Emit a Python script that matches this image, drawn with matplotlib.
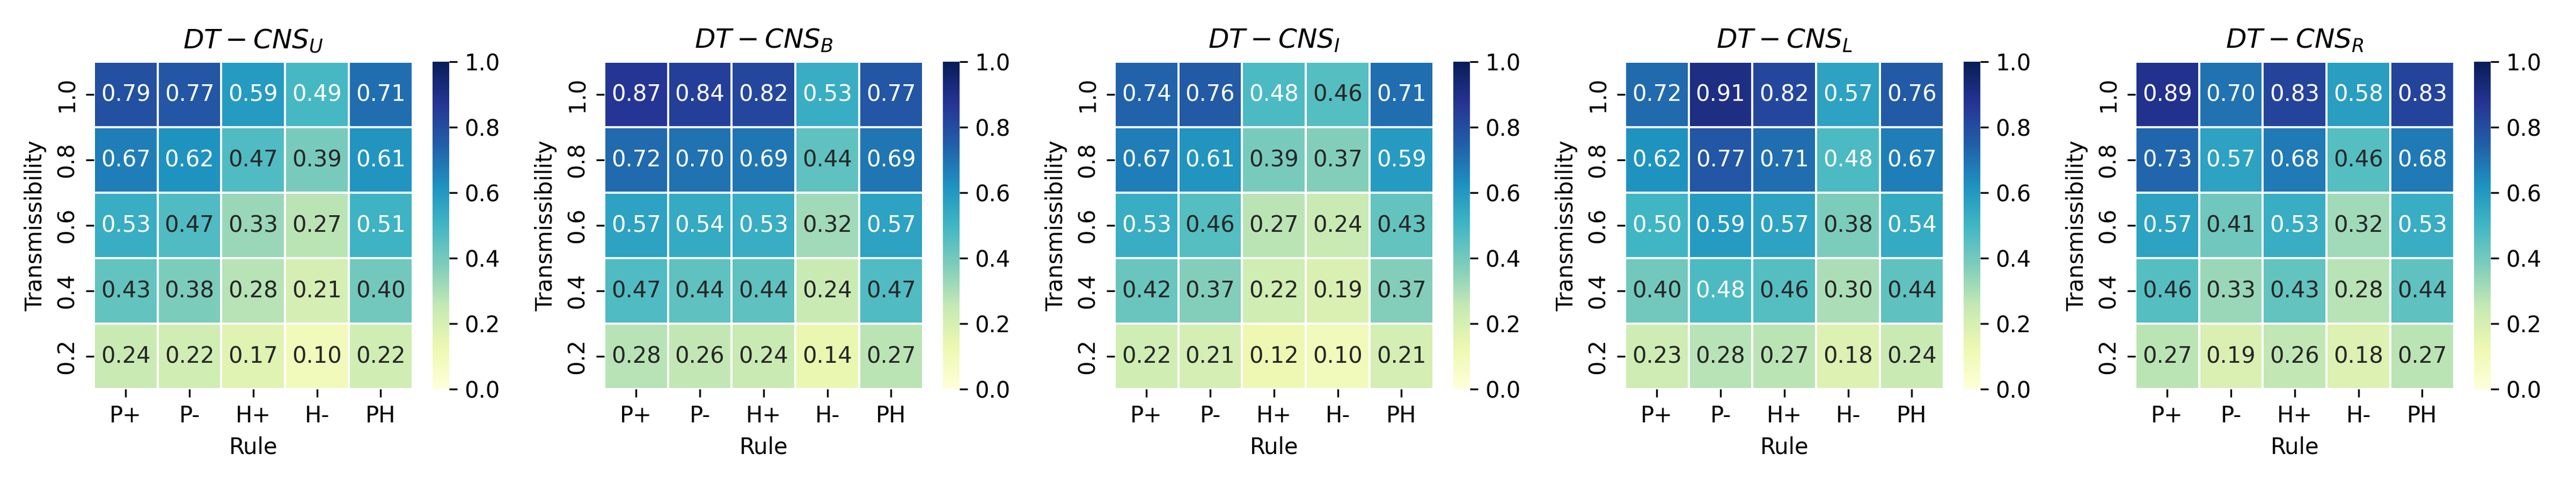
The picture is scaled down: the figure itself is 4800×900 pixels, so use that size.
import numpy as np
import matplotlib
matplotlib.use("Agg")
import matplotlib.pyplot as plt
import seaborn as sns

rules = ["P+", "P-", "H+", "H-", "PH"]
trans = ["1.0", "0.8", "0.6", "0.4", "0.2"]
titles = [r"$DT-CNS_U$", r"$DT-CNS_B$", r"$DT-CNS_I$", r"$DT-CNS_L$", r"$DT-CNS_R$"]

cns_u = [[0.79, 0.77, 0.59, 0.49, 0.71],
         [0.67, 0.62, 0.47, 0.39, 0.61],
         [0.53, 0.47, 0.33, 0.27, 0.51],
         [0.43, 0.38, 0.28, 0.21, 0.40],
         [0.24, 0.22, 0.17, 0.10, 0.22]]
cns_b = [[0.87, 0.84, 0.82, 0.53, 0.77],
         [0.72, 0.70, 0.69, 0.44, 0.69],
         [0.57, 0.54, 0.53, 0.32, 0.57],
         [0.47, 0.44, 0.44, 0.24, 0.47],
         [0.28, 0.26, 0.24, 0.14, 0.27]]
cns_i = [[0.74, 0.76, 0.48, 0.46, 0.71],
         [0.67, 0.61, 0.39, 0.37, 0.59],
         [0.53, 0.46, 0.27, 0.24, 0.43],
         [0.42, 0.37, 0.22, 0.19, 0.37],
         [0.22, 0.21, 0.12, 0.10, 0.21]]
cns_l = [[0.72, 0.91, 0.82, 0.57, 0.76],
         [0.62, 0.77, 0.71, 0.48, 0.67],
         [0.50, 0.59, 0.57, 0.38, 0.54],
         [0.40, 0.48, 0.46, 0.30, 0.44],
         [0.23, 0.28, 0.27, 0.18, 0.24]]
cns_r = [[0.89, 0.70, 0.83, 0.58, 0.83],
         [0.73, 0.57, 0.68, 0.46, 0.68],
         [0.57, 0.41, 0.53, 0.32, 0.53],
         [0.46, 0.33, 0.43, 0.28, 0.44],
         [0.27, 0.19, 0.26, 0.18, 0.27]]


def main():
    data = [cns_u, cns_b, cns_i, cns_l, cns_r]
    fig, axes = plt.subplots(1, 5, figsize=(16, 3))
    for ax, d, t in zip(axes, data, titles):
        sns.heatmap(np.array(d), ax=ax, cmap="YlGnBu", vmin=0, vmax=1,
                    annot=True, fmt=".2f", linewidths=0.5, linecolor="white",
                    xticklabels=rules, yticklabels=trans)
        ax.set_title(t)
        ax.set_xlabel("Rule")
        ax.set_ylabel("Transmissibility")
    plt.tight_layout()
    plt.savefig("out.png", dpi=300)


if __name__ == "__main__":
    main()
